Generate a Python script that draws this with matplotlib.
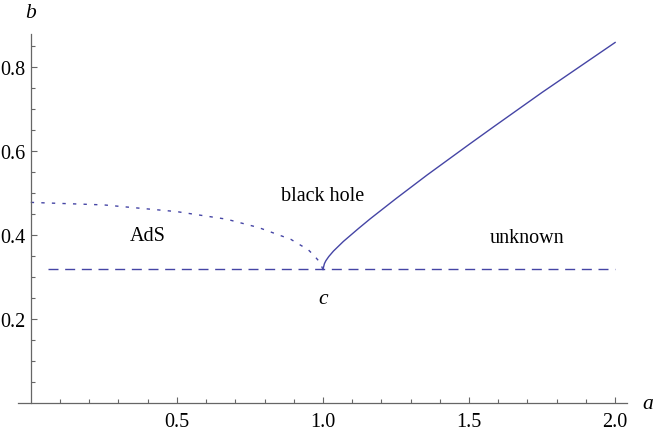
import matplotlib.pyplot as plt
import numpy as np

# 字体: Times 风格
plt.rcParams['font.family'] = ['Liberation Serif', 'DejaVu Serif']

# 数据 (从图上读出来的)
ads_a = [0.0, 0.25, 0.5, 0.67, 0.78, 0.89, 0.95, 0.97, 0.99, 1.0]
ads_b = [0.478, 0.472, 0.456, 0.438, 0.418, 0.39, 0.365, 0.351, 0.335, 0.318]

bh_a = [1.0, 1.005, 1.01, 1.02, 1.036, 1.07, 1.122, 1.162, 1.25, 1.356, 1.5, 1.584, 1.75, 2.0]
bh_b = [0.318, 0.332, 0.339, 0.349, 0.362, 0.385, 0.416, 0.439, 0.487, 0.543, 0.616, 0.658, 0.740, 0.859]

crit_a = [0.06, 2.0]
crit_b = [1 / np.pi, 1 / np.pi]

xticks_major = [0.5, 1.0, 1.5, 2.0]
yticks_major = [0.2, 0.4, 0.6, 0.8]

line_color = '#4545a5'
axis_color = '#666666'
fs = 14.5

fig = plt.figure(figsize=(6.54, 4.31), dpi=100)
ax = fig.add_axes([0.0274, 0.0626, 0.931, 0.856])

ax.plot(ads_a, ads_b, color=line_color, lw=1.0, dashes=(2.4, 5.2))
ax.plot(bh_a, bh_b, color=line_color, lw=1.0)
ax.plot(crit_a, crit_b, color=line_color, lw=1.0, dashes=(7.2, 4.8))

ax.set_xlim(-0.044, 2.04)
ax.set_ylim(0, 0.879)

# 坐标轴: 只留左边和底边, 左轴放在 x=0
ax.spines['top'].set_color('none')
ax.spines['right'].set_color('none')
ax.spines['left'].set_position(('data', 0))
for s in ['left', 'bottom']:
    ax.spines[s].set_color(axis_color)
    ax.spines[s].set_linewidth(0.9)

ax.set_xticks(xticks_major)
ax.set_xticklabels(['%.1f' % v for v in xticks_major])
ax.set_yticks(yticks_major)
ax.set_yticklabels(['%.1f' % v for v in yticks_major])
ax.set_xticks(np.arange(0.1, 2.01, 0.1), minor=True)
ax.set_yticks(np.arange(0.05, 0.86, 0.05), minor=True)

ax.tick_params(which='both', direction='in', color=axis_color, width=0.8)
ax.tick_params(which='major', length=4.5, labelsize=fs)
ax.tick_params(which='minor', length=2.6)
ax.tick_params(axis='x', pad=6.5)
ax.tick_params(axis='y', pad=4)

# 区域标注
ax.text(0.40, 0.40, 'AdS', fontsize=fs, ha='center', va='center')
ax.text(0.998, 0.495, 'black hole', fontsize=fs, ha='center', va='center')
ax.text(1.70, 0.395, 'unknown', fontsize=fs, ha='center', va='center')
ax.text(1.0, 0.25, 'c', fontsize=fs + 1, style='italic', ha='center', va='center')

# 轴名
ax.text(0.0, 0.931, 'b', fontsize=fs + 1, style='italic', ha='center', va='center', clip_on=False)
ax.text(2.11, 0.0, 'a', fontsize=fs + 1, style='italic', ha='center', va='center', clip_on=False)

fig.savefig('out.png', dpi=100)
